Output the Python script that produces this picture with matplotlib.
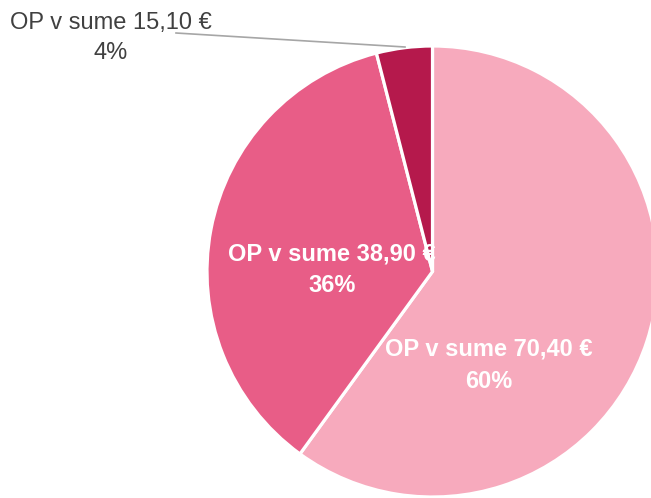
import matplotlib.pyplot as plt

# slice data (clockwise from 12 o'clock)
categories = ['OP v sume 70,40 €', 'OP v sume 38,90 €', 'OP v sume 15,10 €']
shares = [60, 36, 4]
pct_labels = ['60%', '36%', '4%']
colors = ['#F7AABD', '#E85D87', '#B5194C']

plt.rcParams['font.family'] = ['Liberation Sans', 'DejaVu Sans']

W, H = 651, 498
fig = plt.figure(figsize=(W / 100, H / 100), dpi=100)
ax = fig.add_axes([0, 0, 1, 1])

cx, cy, r = 432.5, H - 271.5, 225.5
ax.pie(shares, colors=colors, startangle=90, counterclock=False,
       center=(cx, cy), radius=r, frame=True,
       wedgeprops=dict(edgecolor='white', linewidth=2.3))
ax.set_xlim(0, W)
ax.set_ylim(0, H)
ax.set_aspect('equal')
ax.axis('off')

# label spots in pixel coords (x, y from top)
label_xy = [(489, 365), (332, 270), (111, 38)]
for i, (x, y) in enumerate(label_xy):
    if i < 2:
        ax.text(x, H - y, categories[i] + '\n' + pct_labels[i], ha='center', va='center',
                color='white', fontsize=17, fontweight='bold', linespacing=1.5)
    else:
        ax.text(x, H - y, categories[i] + '\n' + pct_labels[i], ha='center', va='center',
                color='#404040', fontsize=17, linespacing=1.45)

# leader line for the small slice
ax.plot([176, 405], [H - 33, H - 47], color='#A6A6A6', lw=1.2)

fig.savefig('out.png', dpi=100)
